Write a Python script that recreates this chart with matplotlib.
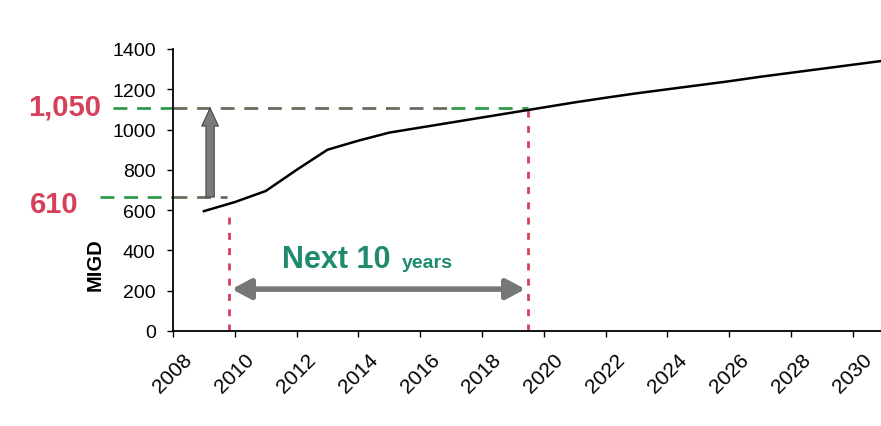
import matplotlib.pyplot as plt
from matplotlib.patches import FancyArrowPatch

plt.rcParams['font.family'] = ['Liberation Sans', 'DejaVu Sans']

# data
years = [2009, 2010, 2011, 2012, 2013, 2014, 2015, 2016, 2017, 2018, 2019, 2020,
         2021, 2022, 2023, 2024, 2025, 2026, 2027, 2028, 2029, 2030, 2031]
migd = [595, 640, 695, 800, 900, 945, 985, 1010, 1035, 1060, 1085, 1110,
        1135, 1158, 1180, 1200, 1220, 1240, 1262, 1282, 1302, 1322, 1342]
tick_years = list(range(2008, 2031, 2))

low_level = 665     # drawn level of the "610" marker
high_level = 1107   # drawn level of the "1,050" marker
start_year = 2009.8
end_year = 2019.5
arrow_x = 2009.2
span_y = 208

green = '#2f9a4a'
dgray = '#6b6b5e'
red = '#d6405a'
teal = '#1e8a6e'

fig = plt.figure(figsize=(8.81, 4.27), dpi=100)
ax = fig.add_axes([173/881, 1 - 332/427, 708/881, 282/427])

ax.plot(years, migd, color='black', lw=1.8, zorder=5)

ax.set_xlim(2008, 2030.91)
ax.set_ylim(0, 1400)
ax.set_yticks(range(0, 1401, 200))
ax.set_xticks(tick_years)
ax.set_xticklabels([str(y) for y in tick_years], rotation=45, ha='center', fontsize=15)
ax.tick_params(axis='y', labelsize=14, length=4.5, width=1, direction='out', pad=8)
ax.tick_params(axis='x', length=4.5, width=1, direction='out', pad=9)
for s in ['top', 'right']:
    ax.spines[s].set_visible(False)
for s in ['left', 'bottom']:
    ax.spines[s].set_linewidth(1.3)

# horizontal guide lines
dash = (0, (5, 3.5))
ax.plot([2006.06, 2008], [high_level]*2, color=green, lw=2, ls=dash, clip_on=False)
ax.plot([2008, 2017], [high_level]*2, color=dgray, lw=2, ls=dash, clip_on=False)
ax.plot([2017, end_year], [high_level]*2, color=green, lw=2, ls=dash, clip_on=False)
ax.plot([2005.64, 2008], [low_level]*2, color=green, lw=2, ls=dash, clip_on=False)
ax.plot([2008, 2009.75], [low_level]*2, color=dgray, lw=2, ls=dash, clip_on=False)

# vertical red guides
ax.plot([start_year]*2, [0, 600], color=red, lw=2, ls=(0, (2.5, 3)))
ax.plot([end_year]*2, [0, 1100], color=red, lw=2, ls=(0, (2.5, 3)))

# growth arrow
ax.annotate('', xy=(arrow_x, high_level), xytext=(arrow_x, low_level),
            arrowprops=dict(arrowstyle='simple,head_width=1.2,head_length=1.3,tail_width=0.6',
                            fc='#7a7a7a', ec='#4a4a4a', lw=0.8, shrinkA=0, shrinkB=0))

# ten-year span arrow
span = FancyArrowPatch((start_year + 0.1, span_y), (end_year - 0.1, span_y),
                       arrowstyle='<|-|>,head_length=0.75,head_width=0.4',
                       mutation_scale=15, lw=4, color='#777777', shrinkA=0, shrinkB=0)
ax.add_patch(span)

ax.text(2011.53, 318, 'Next 10', color=teal, fontsize=22, fontweight='bold', va='baseline')
ax.text(2015.4, 318, 'years', color=teal, fontsize=14, fontweight='bold', va='baseline')

fig.text(28/881, 1 - 108/427, '1,050', color=red, fontsize=21, fontweight='bold', va='center', ha='left')
fig.text(30/881, 1 - 205/427, '610', color=red, fontsize=21, fontweight='bold', va='center', ha='left')
fig.text(95/881, 1 - 265/427, 'MIGD', rotation=90, fontsize=14.5, fontweight='bold', va='center', ha='center')

plt.savefig('out.png', dpi=100)
